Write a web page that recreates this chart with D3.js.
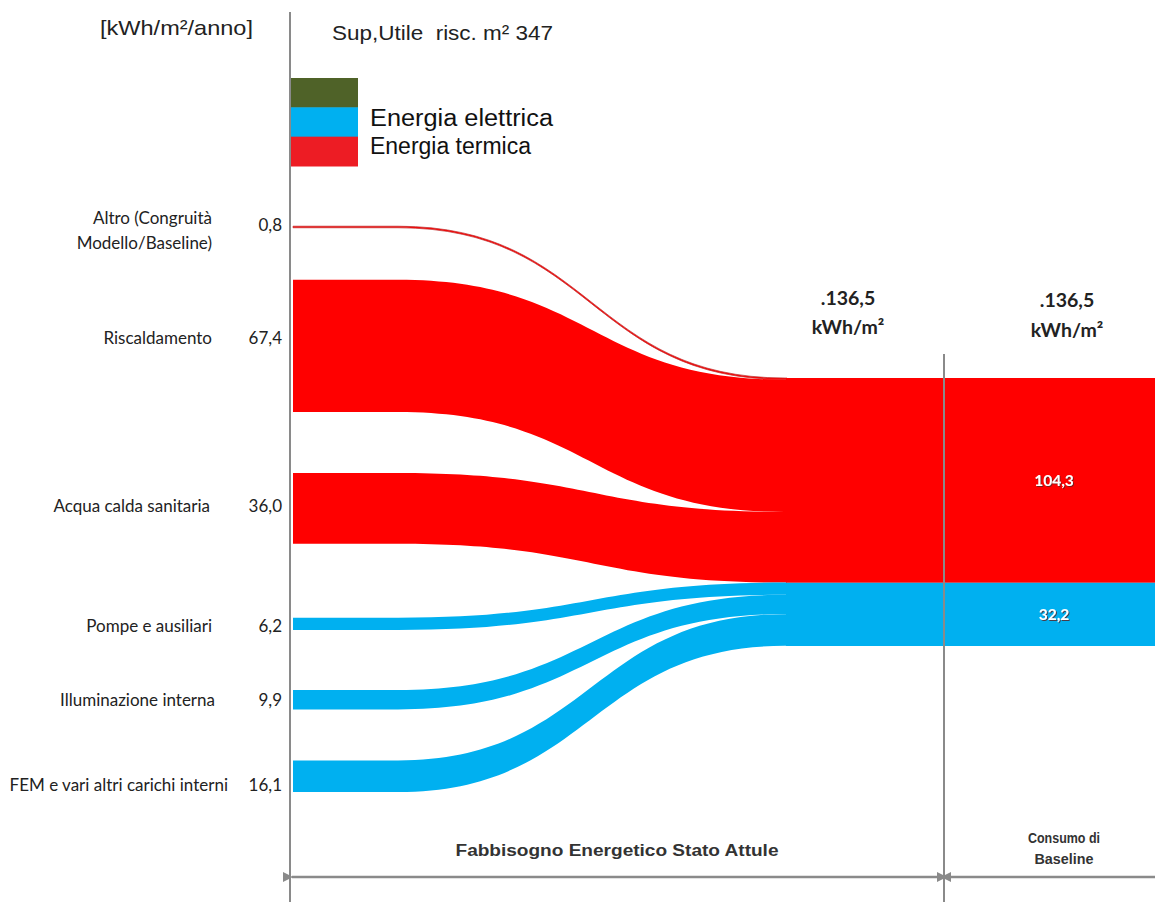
<!DOCTYPE html>
<html>
<head>
<meta charset="utf-8">
<script src="https://cdn.jsdelivr.net/npm/d3@7"></script>
<style>
  html, body { margin: 0; padding: 0; background: #fff; }
  svg { display: block; }
</style>
</head>
<body>
<svg id="chart" width="1155" height="902"></svg>
<script>
// ---- data ----
const categories = [
  ["Altro (Congruità", "Modello/Baseline)"],
  ["Riscaldamento"],
  ["Acqua calda sanitaria"],
  ["Pompe e ausiliari"],
  ["Illuminazione interna"],
  ["FEM e vari altri carichi interni"]
];
const values   = [0.8, 67.4, 36.0, 6.2, 9.9, 16.1];
const carriers = ["termica", "termica", "termica", "elettrica", "elettrica", "elettrica"];

const baselineGroups = ["termica", "elettrica"];
const baselineValues = [104.3, 32.2];
const totalValue = 136.5;

const legendLabels = ["", "Energia elettrica", "Energia termica"];
const legendKeys   = ["altro", "elettrica", "termica"];

const unitLabel  = "[kWh/m²/anno]";
const areaLabel  = "Sup,Utile  risc. m² 347";
const totalUnit  = "kWh/m²";
const sectionLabels = [["Fabbisogno Energetico Stato Attule"], ["Consumo di", "Baseline"]];

// ---- styles / layout ----
const colors = { termica: "#ff0000", elettrica: "#00b0f0", altro: "#4f6228" };
const legendColors = { termica: "#ed1c24", elettrica: "#00b0f0", altro: "#4f6228" };
const grey = "#8a8a8a";

const xAxis = 290, xFlow0 = 293, xBendStart = 398, xBendEnd = 785, xDivider = 944, xRight = 1155;
const yTargetTop = 378;
const gapsBefore = [226.2, 52, 61, 74, 60, 51];
const labelRight = [212, 212, 210, 212, 215, 228];
const labelShift = [0, -8, -2, 2, 0, 9];

const fmtIt = d3.formatLocale({ decimal: ",", thousands: ".", grouping: [3], currency: ["", "€"] }).format(".1f");

const svg = d3.select("#chart");
const h = d3.scaleLinear().domain([0, totalValue]).range([0, 268]);

// shadow for labels inside the baseline block
const defs = svg.append("defs");
defs.append("filter").attr("id", "txtShadow").attr("x", "-20%").attr("y", "-40%").attr("width", "140%").attr("height", "180%")
  .append("feDropShadow").attr("dx", 1).attr("dy", 1).attr("stdDeviation", 0.6).attr("flood-color", "#5a2020").attr("flood-opacity", 0.8);

// source band positions (stacked with gaps) and target positions (contiguous)
let yCur = 0, tCur = yTargetTop;
const bands = values.map((v, i) => {
  const y0 = yCur + gapsBefore[i];
  const y1 = y0 + h(v);
  yCur = y1;
  const t0 = tCur, t1 = tCur + h(v);
  tCur = t1;
  return { i, v, y0, y1, t0, t1, key: carriers[i] };
});

function bandPath(b) {
  const p = d3.path();
  const xm = (xBendStart + xBendEnd) / 2;
  p.moveTo(xFlow0, b.y0);
  p.lineTo(xBendStart, b.y0);
  p.bezierCurveTo(xm, b.y0, xm, b.t0, xBendEnd, b.t0);
  p.lineTo(xBendEnd + 2, b.t0);
  p.lineTo(xBendEnd + 2, b.t1);
  p.lineTo(xBendEnd, b.t1);
  p.bezierCurveTo(xm, b.t1, xm, b.y1, xBendStart, b.y1);
  p.lineTo(xFlow0, b.y1);
  p.closePath();
  return p.toString();
}

// flows
svg.append("g").selectAll("path").data(bands).join("path")
  .attr("d", bandPath)
  .attr("fill", d => colors[d.key])
  .attr("stroke", d => d.v < 2 ? "#b33" : "none")
  .attr("stroke-width", d => d.v < 2 ? 0.7 : 0);

// merged blocks to the right
let bCur = yTargetTop;
const blocks = baselineValues.map((v, i) => {
  const y0 = bCur; bCur += h(v);
  return { v, y0, y1: bCur, key: baselineGroups[i] };
});
svg.append("g").selectAll("rect").data(blocks).join("rect")
  .attr("x", xBendEnd + 1).attr("y", d => d.y0)
  .attr("width", xRight - xBendEnd).attr("height", d => d.y1 - d.y0)
  .attr("fill", d => colors[d.key]);

// block value labels
svg.append("g").selectAll("text").data(blocks).join("text")
  .attr("x", 1054).attr("y", d => (d.y0 + d.y1) / 2)
  .attr("dy", "0.35em")
  .attr("text-anchor", "middle")
  .attr("font-family", "Lato, 'Open Sans', sans-serif").attr("font-weight", "bold").attr("font-size", 15.5)
  .attr("fill", "#fff").attr("filter", "url(#txtShadow)")
  .text(d => fmtIt(d.v));

// vertical axis lines
svg.append("line").attr("x1", xAxis).attr("x2", xAxis).attr("y1", 12).attr("y2", 902)
  .attr("stroke", grey).attr("stroke-width", 2);
svg.append("line").attr("x1", xDivider).attr("x2", xDivider).attr("y1", 354).attr("y2", 902)
  .attr("stroke", grey).attr("stroke-width", 2);

// legend
const legY = d3.scaleBand().domain(legendKeys).range([78, 166]);
svg.append("g").selectAll("rect").data(legendKeys).join("rect")
  .attr("x", 291).attr("y", d => legY(d)).attr("width", 67).attr("height", legY.bandwidth() + 0.5)
  .attr("fill", d => legendColors[d]);
svg.append("g").selectAll("text").data(legendKeys).join("text")
  .attr("x", 370).attr("y", (d, i) => legY(d) + legY.bandwidth() / 2 - 3 - i)
  .attr("dy", "0.35em")
  .attr("font-family", "'Liberation Sans', Arial, sans-serif").attr("font-size", 23).attr("fill", "#111")
  .attr("textLength", (d, i) => [0, 183, 161][i]).attr("lengthAdjust", "spacingAndGlyphs")
  .text((d, i) => legendLabels[i]);

// header texts
svg.append("text").attr("x", 253).attr("y", 28).attr("dy", "0.35em").attr("text-anchor", "end")
  .attr("font-family", "'Liberation Sans', Arial, sans-serif").attr("font-size", 21).attr("fill", "#222")
  .attr("textLength", 153).attr("lengthAdjust", "spacingAndGlyphs")
  .text(unitLabel);
svg.append("text").attr("x", 332).attr("y", 33).attr("dy", "0.35em")
  .attr("font-family", "'Liberation Sans', Arial, sans-serif").attr("font-size", 20).attr("fill", "#222")
  .attr("textLength", 221).attr("lengthAdjust", "spacingAndGlyphs")
  .style("white-space", "pre")
  .text(areaLabel);

// category labels and values
const labelFont = "Lato, 'Open Sans', sans-serif";
const lab = svg.append("g").attr("font-family", labelFont).attr("font-size", 17).attr("fill", "#222");
bands.forEach(b => {
  const yc = (b.y0 + b.y1) / 2 + labelShift[b.i];
  const lines = categories[b.i];
  const t = lab.append("text").attr("text-anchor", "end");
  lines.forEach((ln, j) => {
    t.append("tspan").attr("x", labelRight[b.i])
      .attr("y", yc + (j - (lines.length - 1) / 2) * 25 + (lines.length > 1 ? 4 : 0))
      .attr("dy", "0.35em").text(ln);
  });
  lab.append("text").attr("x", 282).attr("y", yc - (lines.length > 1 ? 2 : 0)).attr("dy", "0.35em")
    .attr("text-anchor", "end").text(fmtIt(b.v));
});

// totals above the two sections
const totFont = "Lato, 'Open Sans', sans-serif";
[848, 1067].forEach((cx, i) => {
  const g = svg.append("g").attr("font-family", totFont).attr("font-weight", "bold").attr("font-size", 19.5)
    .attr("fill", "#222").attr("text-anchor", "middle");
  g.append("text").attr("x", cx).attr("y", 298 + i * 2).attr("dy", "0.35em").text("." + fmtIt(totalValue));
  g.append("text").attr("x", cx).attr("y", 327 + i * 3).attr("dy", "0.35em").text(totalUnit);
});

// dimension arrows at the bottom
const yArrow = 877;
defs.append("marker").attr("id", "arrowHead").attr("viewBox", "0 0 10 10").attr("refX", 1).attr("refY", 5)
  .attr("markerWidth", 4).attr("markerHeight", 4).attr("orient", "auto-start-reverse")
  .append("path").attr("d", "M0,5 L10,0 L10,10 Z").attr("fill", grey);
svg.append("line").attr("x1", xAxis + 2).attr("x2", xDivider - 2).attr("y1", yArrow).attr("y2", yArrow)
  .attr("stroke", grey).attr("stroke-width", 2.5)
  .attr("marker-start", "url(#arrowHead)").attr("marker-end", "url(#arrowHead)");
svg.append("line").attr("x1", xDivider + 2).attr("x2", xRight).attr("y1", yArrow).attr("y2", yArrow)
  .attr("stroke", grey).attr("stroke-width", 2.5)
  .attr("marker-start", "url(#arrowHead)");

// section captions
const cap = svg.append("g").attr("font-family", "'Liberation Sans', Arial, sans-serif").attr("font-weight", "bold")
  .attr("fill", "#333").attr("text-anchor", "middle");
cap.append("text").attr("x", 617).attr("y", 850).attr("dy", "0.35em").attr("font-size", 16)
  .attr("textLength", 323).attr("lengthAdjust", "spacingAndGlyphs").text(sectionLabels[0][0]);
sectionLabels[1].forEach((ln, j) => {
  cap.append("text").attr("x", 1064).attr("y", 838 + j * 21).attr("dy", "0.35em").attr("font-size", 15)
    .attr("textLength", [72, 59][j]).attr("lengthAdjust", "spacingAndGlyphs").text(ln);
});
</script>
</body>
</html>
